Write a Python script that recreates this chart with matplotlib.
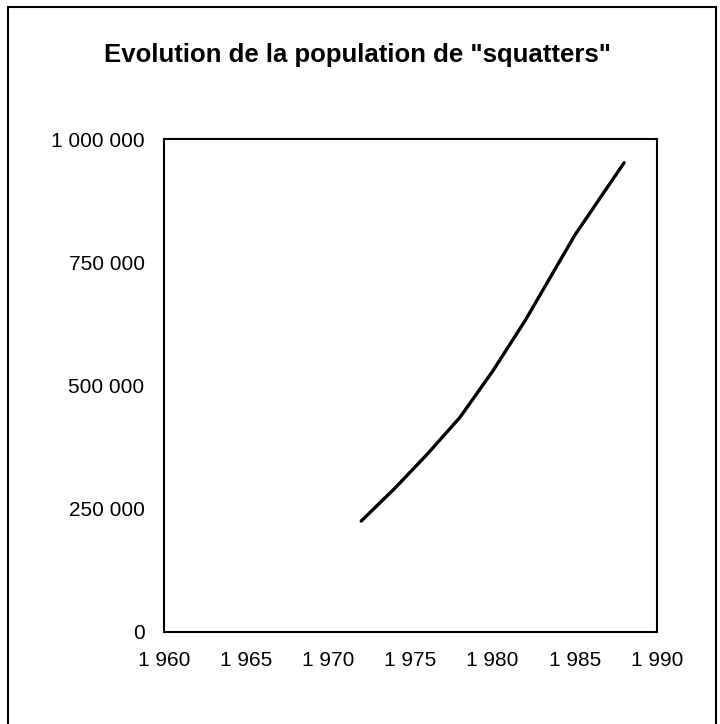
import matplotlib.pyplot as plt
from matplotlib.patches import Rectangle
from matplotlib.ticker import FuncFormatter

# Squatter population
years = [1972, 1974, 1976, 1978, 1980, 1982, 1985, 1988]
population = [225000, 290000, 360000, 435000, 529000, 633000, 805000, 952000]

x_ticks = [1960, 1965, 1970, 1975, 1980, 1985, 1990]
y_ticks = [0, 250000, 500000, 750000, 1000000]


def spaced(v, pos=None):
    # French-style thousands separator
    return f"{v:,.0f}".replace(",", " ")


plt.rcParams['font.family'] = ['Liberation Sans', 'DejaVu Sans']

fig = plt.figure(figsize=(7.2, 7.24), dpi=100)

# outer frame around the whole chart
fig.patches.append(Rectangle((0.011, -0.05), 0.984, 1.04, transform=fig.transFigure,
                             fill=False, edgecolor='black', linewidth=1.5))

ax = fig.add_axes([0.2278, 0.1271, 0.6847, 0.6809])
ax.plot(years, population, color='black', linewidth=2.4,
        solid_capstyle='round', solid_joinstyle='round')

ax.set_xlim(1960, 1990)
ax.set_ylim(0, 1000000)
ax.set_xticks(x_ticks)
ax.set_yticks(y_ticks)
ax.xaxis.set_major_formatter(FuncFormatter(spaced))
ax.yaxis.set_major_formatter(FuncFormatter(spaced))
ax.tick_params(length=0, labelsize=15)
ax.tick_params(axis='y', pad=14)
ax.tick_params(axis='x', pad=14)
for side in ax.spines.values():
    side.set_linewidth(1.5)

fig.text(0.497, 0.924, 'Evolution de la population de "squatters"',
         ha='center', va='center', fontsize=18.5, fontweight='bold')

fig.savefig('out.png', dpi=100)
